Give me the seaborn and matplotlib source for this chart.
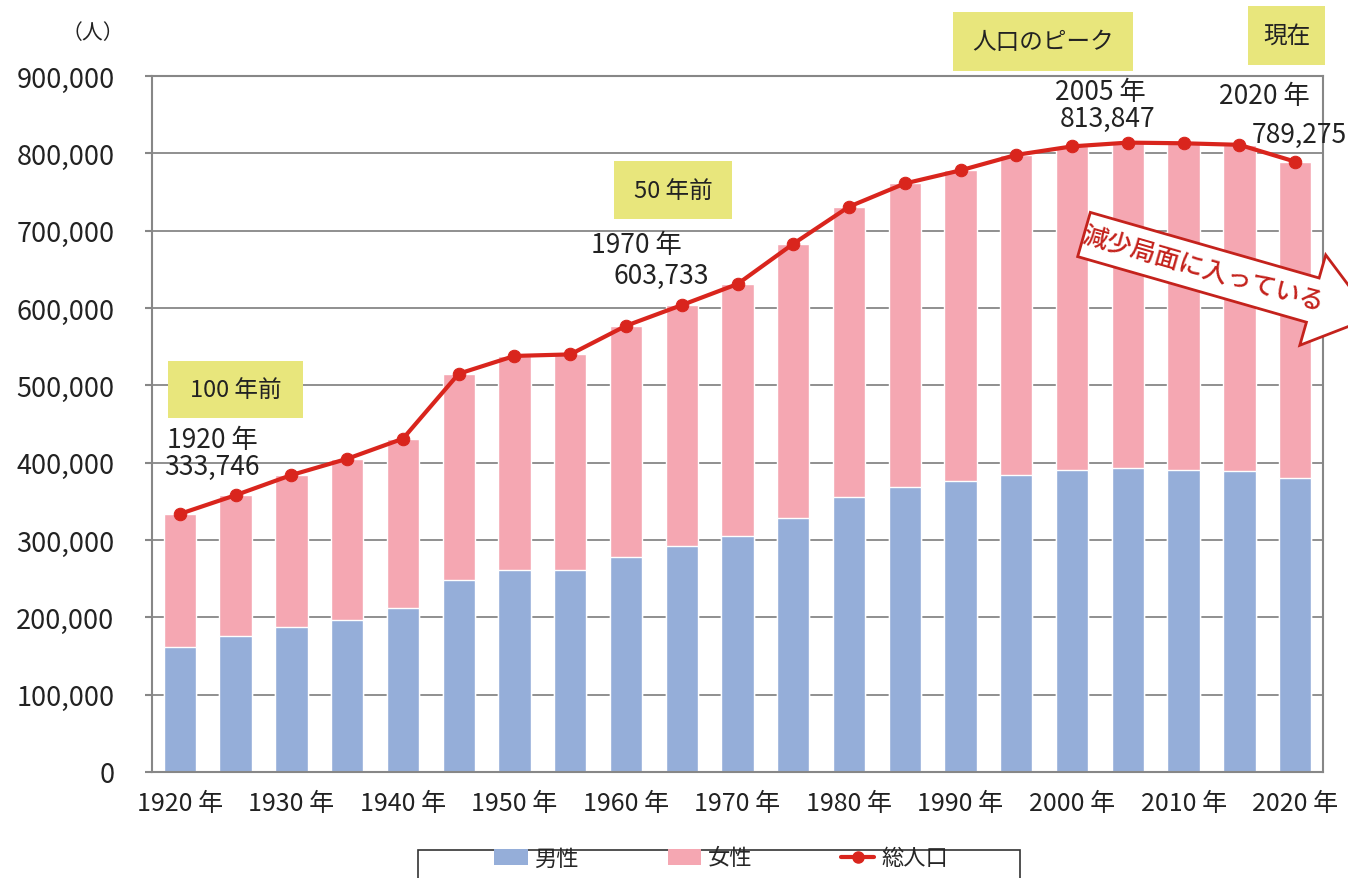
import numpy as np
import matplotlib
matplotlib.use("Agg")
import matplotlib.pyplot as plt
import seaborn as sns
from matplotlib.patches import Patch, Rectangle, Polygon
from matplotlib.lines import Line2D
from matplotlib.ticker import StrMethodFormatter

# data
years = [1920, 1925, 1930, 1935, 1940, 1945, 1950, 1955, 1960, 1965, 1970,
         1975, 1980, 1985, 1990, 1995, 2000, 2005, 2010, 2015, 2020]
male = [162000, 175500, 188000, 197000, 212500, 248000, 261000, 261000, 278000, 292000, 305000,
        329000, 355000, 369000, 376000, 384500, 391000, 393000, 390000, 389500, 380000]
female = [171746, 182500, 196000, 208000, 218500, 267000, 277000, 279000, 299000, 311733, 326000,
          354000, 376000, 392000, 402000, 413500, 418000, 420847, 423000, 421500, 409275]
total = [333746, 358000, 384000, 405000, 431000, 515000, 538000, 540000, 577000, 603733, 631000,
         683000, 731000, 761000, 778000, 798000, 809000, 813847, 813000, 811000, 789275]
year_labels = [f"{y} 年" for y in years]
legend_labels = ["男性", "女性", "総人口"]

BLUE = "#95aed9"
PINK = "#f5a7b2"
RED = "#d9251d"
GRID = "#878787"
BOX = "#e8e67c"
TXT = "#222222"

sns.set_theme(style="white")
plt.rcParams["font.family"] = ["Noto Sans CJK JP", "DejaVu Sans"]

W, H = 1348, 879
fig = plt.figure(figsize=(W / 100, H / 100), dpi=100)
ax = fig.add_axes([152 / W, 1 - 773 / H, (1323 - 152) / W, (773 - 77) / H])

n = len(years)
stack = [m + f for m, f in zip(male, female)]
sns.barplot(x=year_labels, y=stack, color=PINK, saturation=1, width=0.58, ax=ax)
sns.barplot(x=year_labels, y=male, color=BLUE, saturation=1, width=0.58, ax=ax)
sns.lineplot(x=np.arange(n), y=total, color=RED, linewidth=3, marker="o", markersize=9,
             markeredgecolor=RED, markerfacecolor=RED, ax=ax, zorder=4)

ax.set_xlim(-0.5, n - 0.5)
ax.set_ylim(0, 900000)
ax.set_yticks(np.arange(0, 900001, 100000))
ax.yaxis.set_major_formatter(StrMethodFormatter("{x:,.0f}"))
ax.set_xticks(np.arange(0, n, 2))
ax.set_xticklabels(year_labels[::2])
ax.set_xticks(np.arange(-0.5, n, 1), minor=True)
ax.tick_params(axis="x", which="major", length=0, pad=13, labelsize=18, labelcolor=TXT)
ax.tick_params(axis="x", which="minor", length=5, width=1.5, color=GRID, direction="out")
ax.tick_params(axis="y", length=5, width=1.5, color=GRID, direction="out", left=True,
               pad=22, labelsize=19.5, labelcolor=TXT)
ax.set_xlabel("")
ax.set_ylabel("")
ax.yaxis.grid(True, color=GRID, linewidth=1.3)
ax.set_axisbelow(True)
for s in ax.spines.values():
    s.set_color(GRID)
    s.set_linewidth(1.5)

# overlay in pixel coordinates for notes
ov = fig.add_axes([0, 0, 1, 1], zorder=5)
ov.set_xlim(0, W)
ov.set_ylim(H, 0)
ov.axis("off")
ov.patch.set_alpha(0)

ov.text(93, 33, "（人）", ha="center", va="center", fontsize=15, color=TXT)

boxes = [((168, 362, 135, 57), "100 年前"),
         ((614, 162, 118, 58), "50 年前"),
         ((953, 13, 180, 59), "人口のピーク"),
         ((1248, 7, 77, 59), "現在")]
for (x, y, w, h), label in boxes:
    ov.add_patch(Rectangle((x, y), w, h, facecolor=BOX, edgecolor="none"))
    ov.text(x + w / 2, y + h / 2, label, ha="center", va="center", fontsize=17, color=TXT)

def note(cx1, cy1, cx2, cy2, i, ha2="center"):
    ov.text(cx1, cy1, f"{years[i]} 年", ha="center", va="center", fontsize=19, color=TXT)
    ov.text(cx2, cy2, f"{total[i]:,}", ha=ha2, va="center", fontsize=19, color=TXT)

note(212, 441, 212, 467, 0)
ov.text(636, 246, "1970 年", ha="center", va="center", fontsize=19, color=TXT)
ov.text(661, 276, f"{total[9]:,}", ha="center", va="center", fontsize=19, color=TXT)
note(1100, 93, 1108, 119, 17)
note(1264, 96, 1252, 135, 20, ha2="left")

# decline arrow
ang = np.deg2rad(16)
d = np.array([np.cos(ang), np.sin(ang)])
nv = np.array([-np.sin(ang), np.cos(ang)])
c0 = np.array([1084, 235.5])
pts = [c0 - 23 * nv, c0 + 238 * d - 23 * nv, c0 + 238 * d - 47 * nv, c0 + 300 * d,
       c0 + 238 * d + 47 * nv, c0 + 238 * d + 23 * nv, c0 + 23 * nv]
ov.add_patch(Polygon(pts, closed=True, facecolor="white", edgecolor="#c4221c", linewidth=2))
cp = c0 + 124 * d
ov.text(cp[0], cp[1], "減少局面に入っている", rotation=-16, rotation_mode="anchor",
        ha="center", va="center", fontsize=18, fontweight="medium", color="#c4221c")

# legend
ov.add_patch(Rectangle((418, 851), 602, 45, facecolor="white", edgecolor="#333333", linewidth=1.2))
handles = [Patch(facecolor=BLUE, edgecolor="none"),
           Patch(facecolor=PINK, edgecolor="none"),
           Line2D([], [], color=RED, linewidth=3, marker="o", markersize=8)]
leg = fig.legend(handles, legend_labels, loc="center", bbox_to_anchor=(721 / W, 1 - 859 / H),
                 ncol=3, frameon=False, fontsize=16, handlelength=1.5, handleheight=0.7,
                 columnspacing=4.0, handletextpad=0.3)
leg.set_zorder(6)

fig.savefig("out.png", dpi=100)
